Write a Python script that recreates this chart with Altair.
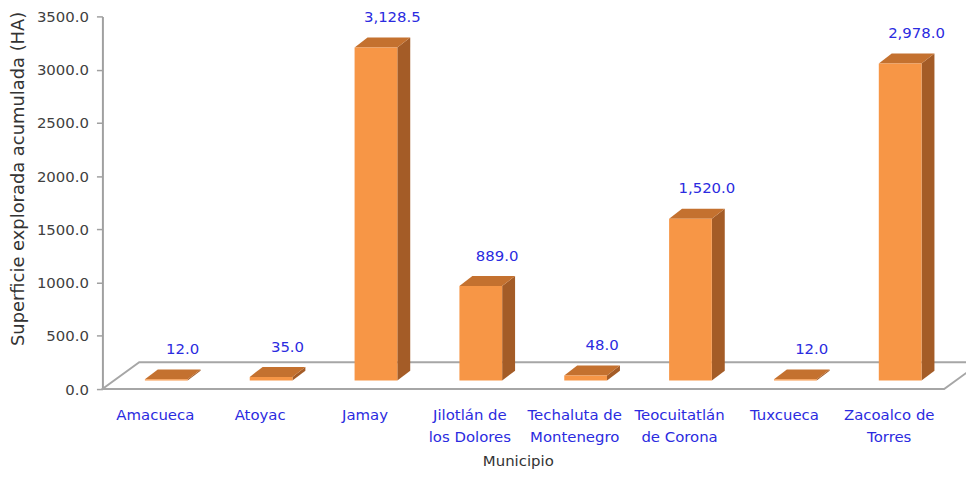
import json
import altair as alt
import pandas as pd

# ---- data ----
categories = ["Amacueca", "Atoyac", "Jamay", "Jilotlán de los Dolores",
              "Techaluta de Montenegro", "Teocuitatlán de Corona",
              "Tuxcueca", "Zacoalco de Torres"]
values = [12.0, 35.0, 3128.5, 889.0, 48.0, 1520.0, 12.0, 2978.0]
label_lines = [["Amacueca"], ["Atoyac"], ["Jamay"], ["Jilotlán de", "los Dolores"],
               ["Techaluta de", "Montenegro"], ["Teocuitatlán", "de Corona"],
               ["Tuxcueca"], ["Zacoalco de", "Torres"]]
y_ticks = [0, 500, 1000, 1500, 2000, 2500, 3000, 3500]

# ---- layout / style ----
W, H = 844, 375
YMAX = 3500
N = len(categories)
PXU = N / W          # x data units per pixel
PYU = YMAX / H       # y data units per pixel
FACE_L, FACE_R = -10, 33   # front face edges, px from category centre
LIFT = 8.5                 # front face lifted from floor front (px)
DX, DY = 13, 10            # bar depth (px)
FLOOR_DX, FLOOR_DY = 37, 27

FRONT = "#F79646"
TOP = "#C4712F"
SIDE = "#A45C27"
BLUE = "#2B2BE0"
FONT = "DejaVu Sans"

bars = pd.DataFrame({"category": categories, "value": values})
bars["xc"] = [i + 0.5 for i in range(N)]
bars["base"] = 0.0

top_rows, side_rows = [], []
for i, (c, v) in enumerate(zip(categories, values)):
    xc = i + 0.5
    for k in (0, 1):
        top_rows.append({"category": c,
                         "y": v + (LIFT + k * DY) * PYU,
                         "x": xc + (FACE_L + k * DX) * PXU,
                         "x2": xc + (FACE_R + k * DX) * PXU})
        side_rows.append({"category": c,
                          "x": xc + (FACE_R + k * DX) * PXU,
                          "y": (LIFT + k * DY) * PYU,
                          "y2": v + (LIFT + k * DY) * PYU})
top_df = pd.DataFrame(top_rows)
side_df = pd.DataFrame(side_rows)
floor_df = pd.DataFrame({"g": ["f", "f"],
                         "y": [0.0, FLOOR_DY * PYU],
                         "x": [0.0, FLOOR_DX * PXU],
                         "x2": [float(N) + 3 * PXU, N + (FLOOR_DX + 3) * PXU]})

label_expr = json.dumps(label_lines, ensure_ascii=False) + "[floor(datum.value)]"

xscale = alt.Scale(domain=[0, N], nice=False, zero=False)
yscale = alt.Scale(domain=[0, YMAX], nice=False, zero=False)
xaxis = alt.Axis(values=[i + 0.5 for i in range(N)], labelExpr=label_expr,
                 title="Municipio", domain=False, ticks=False, grid=False,
                 labelColor=BLUE, labelFont=FONT, labelFontSize=15,
                 labelPadding=19, labelLineHeight=22, labelBaseline="top",
                 titleFont=FONT, titleFontSize=15, titleFontWeight="normal",
                 titleColor="#333333", titleBaseline="middle",
                 titleX=418, titleY=72)
yaxis = alt.Axis(values=y_ticks, format=".1f",
                 title="Superficie explorada acumulada (HA)",
                 domainColor="#A0A0A0", domainWidth=2, tickColor="#A0A0A0",
                 tickSize=6, tickWidth=1.5, grid=False,
                 labelColor="#404040", labelFont=FONT, labelFontSize=15,
                 labelPadding=8, titleFont=FONT, titleFontSize=18,
                 titleFontWeight="normal", titleColor="#333333",
                 titleBaseline="middle", titleX=-84, titleY=163)


def X(field):
    return alt.X(field, type="quantitative", scale=xscale, axis=xaxis)


def Y(field):
    return alt.Y(field, type="quantitative", scale=yscale, axis=yaxis)


floor = alt.Chart(floor_df).mark_area(
    orient="horizontal", fill="white", stroke="#A6A6A6", strokeWidth=2, clip=False
).encode(y=Y("y"), x=X("x"), x2="x2", detail="g:N")

side = alt.Chart(side_df).mark_area(orient="vertical", color=SIDE).encode(
    x=X("x"), y=Y("y"), y2="y2", detail="category:N")

top = alt.Chart(top_df).mark_area(orient="horizontal", color=TOP).encode(
    y=Y("y"), x=X("x"), x2="x2", detail="category:N")

front = alt.Chart(bars).mark_rect(
    color=FRONT, xOffset=FACE_L, x2Offset=FACE_R, yOffset=-LIFT, y2Offset=-LIFT
).encode(x=X("xc"), x2="xc", y=Y("base"), y2="value")

labels = alt.Chart(bars).mark_text(
    color=BLUE, font=FONT, fontSize=15, dx=28, dy=-39, baseline="middle"
).encode(x=X("xc"), y=Y("value"), text=alt.Text("value:Q", format=",.1f"))

chart = alt.layer(floor, side, top, front, labels).properties(
    width=W, height=H,
    autosize=alt.AutoSizeParams(type="none"),
    padding={"left": 95, "top": 7, "right": 25, "bottom": 82},
).configure_view(stroke=None)

chart.save("out.html", embed_options={"renderer": "svg", "actions": False})
